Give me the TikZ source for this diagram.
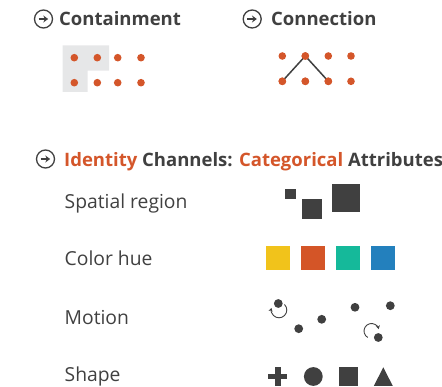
\documentclass[tikz,border=0pt]{standalone}
\usepackage{fontspec}
\setmainfont{Open Sans}
\usetikzlibrary{arrows.meta}
\definecolor{inkgray}{HTML}{404040}
\definecolor{markorange}{HTML}{D4562A}
\definecolor{regiongray}{HTML}{E6E7E8}
\definecolor{hueyellow}{HTML}{F1C31B}
\definecolor{hueorange}{HTML}{D45527}
\definecolor{hueteal}{HTML}{15B99A}
\definecolor{hueblue}{HTML}{2380BD}
\tikzset{
	dot/.style={circle,fill=markorange,inner sep=0pt,minimum size=7.6pt},
	blob/.style={circle,fill=inkgray,inner sep=0pt,minimum size=8.8pt},
	headtext/.style={anchor=base west,inner sep=0pt,font=\fontsize{18.5}{22}\selectfont\bfseries,text=inkgray},
	labeltext/.style={anchor=base west,inner sep=0pt,font=\fontsize{19.3}{22}\selectfont,text=inkgray},
	spin/.style={draw=inkgray,line width=0.9pt,-{Stealth[length=3.5pt,width=4pt]}}
}
\newcommand{\gobutton}[2]{%
	\draw[inkgray,line width=1.3pt] #1 circle (9);
	\draw[inkgray,line width=1.9pt,-{Stealth[length=4.8pt,width=7pt]}] #1 ++(-5,0) -- ++(9.6,0);
	\node[headtext] at #2}
\begin{document}
\begin{tikzpicture}[x=1pt,y=-1pt]
	\useasboundingbox (0,0) rectangle (442,387);

	% containment
	\gobutton{(43.5,19)}{(59,26) {Containment};}
	\fill[regiongray] (62.7,45.5) -- (109,45.5) -- (109,70.7) -- (87.7,70.7) -- (87.7,92) -- (62.7,92) -- cycle;
	\foreach \x [count=\i] in {74.3,97.3,117.7,141}
		{
		\node[dot] (a\i) at (\x,57.7) {};
		\node[dot] (b\i) at (\x,82.7) {};
		}

	% connection
	\gobutton{(252.2,19)}{(271,26) {Connection};}
	\foreach \x [count=\i] in {282.3,305.3,328.3,351}
		{
		\node[dot] (p\i) at (\x,56) {};
		\node[dot] (q\i) at (\x,81.3) {};
		}
	\draw[inkgray,line width=1.5pt] (q1.center) -- (p2.center) -- (q3.center);
	\foreach \i in {1,2,3}
		{
		\node[dot] at (q\i) {};
		}
	\node[dot] at (p2) {};

	% identity channels
	\gobutton{(45.5,159)}{(64,166.7) {\textcolor{markorange}{Identity} Channels: \textcolor{markorange}{Categorical} Attributes};}

	\node[labeltext] (spatial) at (64.5,209) {Spatial region};
	\node[labeltext] (hue) at (64.5,266) {Color hue};
	\node[labeltext] (motion) at (64.5,324.3) {Motion};
	\node[labeltext] (shape) at (64.5,381.7) {Shape};

	% spatial region
	\fill[inkgray] (285,189.3) rectangle (296,199.3);
	\fill[inkgray] (301.7,199.3) rectangle (321.7,219.3);
	\fill[inkgray] (331.7,183.7) rectangle (360,211.7);

	% color hue
	\fill[hueyellow] (266,246) rectangle (290,270);
	\fill[hueorange] (301,246) rectangle (325,270);
	\fill[hueteal] (336,246) rectangle (360,270);
	\fill[hueblue] (371,246) rectangle (395,270);

	% motion
	\draw[spin] (279,310) ++(-45:7.8) arc (-45:195:7.8);
	\node[blob] (m1) at (278.3,303.5) {};
	\node[blob] (m2) at (298.7,328.7) {};
	\node[blob] (m3) at (321.7,319.3) {};
	\node[blob] (m4) at (355,307.3) {};
	\node[blob] (m5) at (390.3,305.7) {};
	\draw[spin] (371.5,331) ++(120:7.5) arc (120:345:7.5);
	\node[blob] (m6) at (378.3,337.5) {};

	% shape
	\draw[inkgray,line width=5.5pt] (268.3,376.7) -- (287.3,376.7);
	\draw[inkgray,line width=5.5pt] (277.8,367.3) -- (277.8,386.1);
	\fill[inkgray] (313.3,376.5) circle (9.4);
	\fill[inkgray] (339,367) rectangle (358,386);
	\fill[inkgray] (383.3,367.3) -- (392.8,386) -- (373.8,386) -- cycle;
\end{tikzpicture}
\end{document}
